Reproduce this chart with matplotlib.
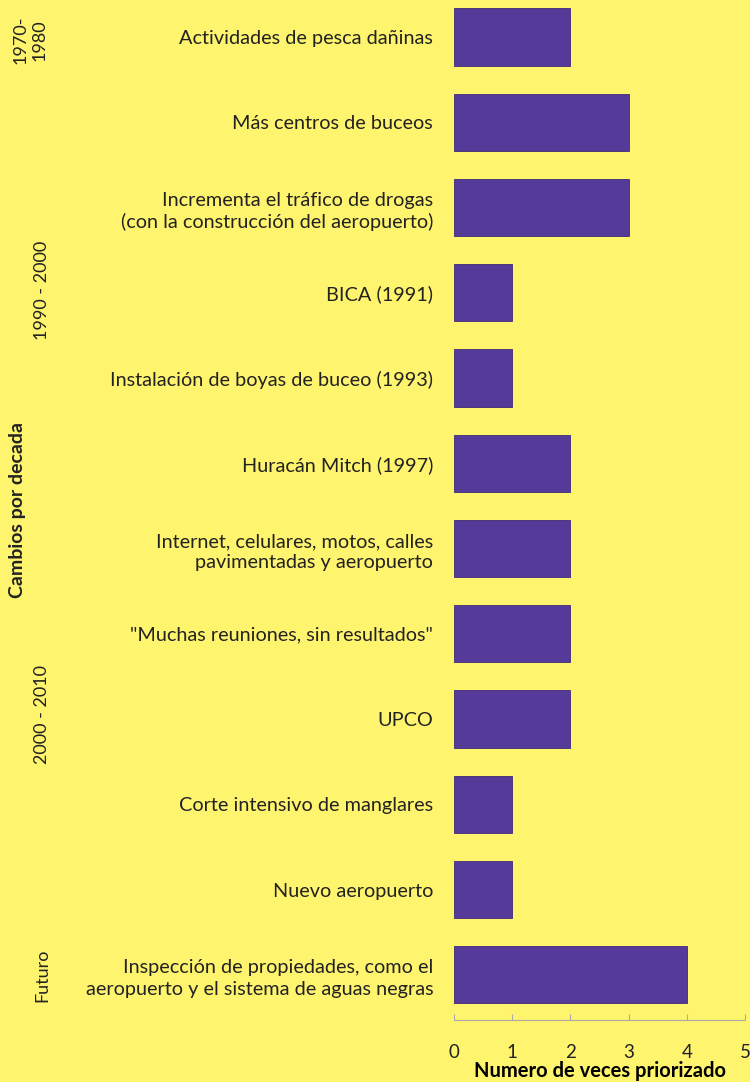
import matplotlib
matplotlib.use("Agg")
import matplotlib.pyplot as plt

categories = [
    "Actividades de pesca dañinas",
    "Más centros de buceos",
    "Incrementa el tráfico de drogas\n(con la construcción del aeropuerto)",
    "BICA (1991)",
    "Instalación de boyas de buceo (1993)",
    "Huracán Mitch (1997)",
    "Internet, celulares, motos, calles\npavimentadas y aeropuerto",
    "\"Muchas reuniones, sin resultados\"",
    "UPCO",
    "Corte intensivo de manglares",
    "Nuevo aeropuerto",
    "Inspección de propiedades, como el\naeropuerto y el sistema de aguas negras",
]
values = [2, 3, 3, 1, 1, 2, 2, 2, 2, 1, 1, 4]
xticks = [0, 1, 2, 3, 4, 5]

# decade groups: label, pixel y centre (from reference)
groups = [
    ("1970-\n1980", 40),
    ("1990 - 2000", 290),
    ("2000 - 2010", 715),
    ("Futuro", 975),
]

bg = "#FFF46E"
bar_color = "#553A99"
W, H = 750, 1082

plt.rcParams['font.family'] = ['Lato', 'DejaVu Sans']

fig = plt.figure(figsize=(W / 100, H / 100), dpi=100, facecolor=bg)
ax = fig.add_axes([454 / W, (H - 1020) / H, (745 - 454) / W, 1025.6 / H])
ax.set_facecolor(bg)

pos = list(range(len(categories)))
ax.barh(pos, values, height=0.67, color=bar_color, edgecolor="#3e2a7a", linewidth=0.6)
ax.set_ylim(len(categories) - 0.47, -0.5)
ax.set_xlim(0, 5)
ax.set_yticks(pos)
ax.set_yticklabels(categories, fontsize=14.3, color="#222222", linespacing=1.3)
ax.tick_params(axis='y', length=0, pad=15)
ax.set_xticks(xticks)
ax.set_xticklabels([str(t) for t in xticks], fontsize=13.5, color="#222222")
ax.tick_params(axis='x', direction='in', length=4, color="#aaaaaa", pad=17)
for s in ['top', 'right', 'left']:
    ax.spines[s].set_visible(False)
ax.spines['bottom'].set_color("#aaaaaa")
ax.set_xlabel("Numero de veces priorizado", fontsize=14.5, fontweight='bold', labelpad=0)

for label, yc in groups:
    if "\n" in label:
        fig.text(30 / W, 1 - yc / H, label, rotation=90, ha='center', va='center',
                 fontsize=13, linespacing=1.3, color="#222222")
    else:
        fig.text(42 / W, 1 - yc / H, label, rotation=90, ha='center', va='center',
                 fontsize=13, color="#222222")

fig.text(18 / W, 1 - 510 / H, "Cambios por decada", rotation=90, ha='center', va='center',
         fontsize=14, fontweight='bold', color="#222222")

fig.savefig("out.png", dpi=100, facecolor=bg)
